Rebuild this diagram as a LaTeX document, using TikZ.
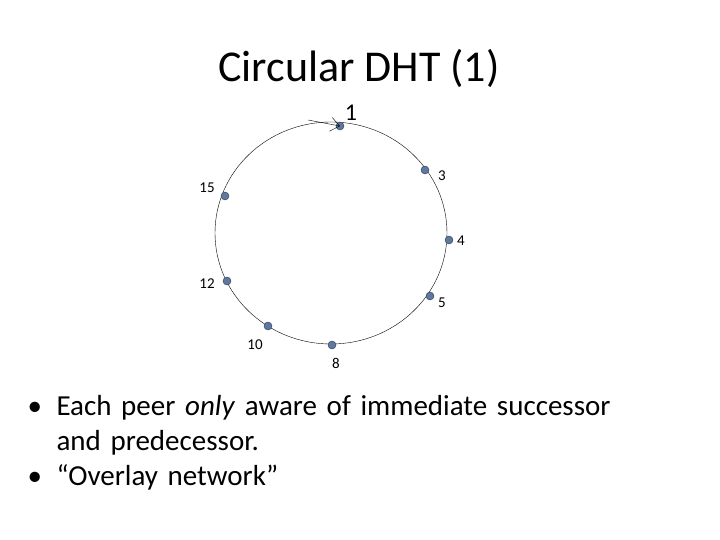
\documentclass[tikz,border=0pt]{standalone}
\usepackage{fontspec}
\setmainfont{Carlito}
\usetikzlibrary{arrows.meta}
\definecolor{peerfill}{RGB}{95,120,160}
\definecolor{peerline}{RGB}{40,55,80}
\begin{document}
\begin{tikzpicture}[x=1pt,y=-1pt,
  peer/.style={circle,fill=peerfill,draw=peerline,inner sep=0pt,minimum size=8pt},
  lab/.style={font=\fontsize{15}{17}\selectfont,inner sep=1pt}]
\useasboundingbox (0,0) rectangle (720,540);
\node (title) at (359,68) {\fontsize{44}{48}\selectfont Circular DHT (1)};
\draw[thin] (331,233) ellipse [x radius=116, y radius=111];
\node[peer] (n1) at (340,126) {};
\node[peer] (n3) at (425,170) {};
\node[peer] (n15) at (225,196) {};
\node[peer] (n4) at (449,240) {};
\node[peer] (n12) at (227,281) {};
\node[peer] (n5) at (430,296) {};
\node[peer] (n10) at (268,326) {};
\node[peer] (n8) at (332,345) {};
\coordinate (arrstart) at (308,120);
\draw[-{Straight Barb[length=9pt,width=14pt]},thin] (arrstart) -- (n1.center);
\node[font=\fontsize{24}{26}\selectfont] (l1) at (351,113) {1};
\node[lab] (l3) at (442,176) {3};
\node[lab] (l15) at (207,188) {15};
\node[lab] (l4) at (461,241) {4};
\node[lab] (l12) at (207,284) {12};
\node[lab] (l5) at (442,303) {5};
\node[lab] (l10) at (255,345) {10};
\node[lab] (l8) at (336,363) {8};
\node[anchor=north west,text width=680pt,font=\fontsize{29}{35}\selectfont,align=left] (txt) at (24,392) {%
\makebox[29pt][l]{•}Each peer \emph{only} aware of immediate successor\\
\hspace*{29pt}and predecessor.\\
\makebox[29pt][l]{•}“Overlay network”};
\end{tikzpicture}
\end{document}
